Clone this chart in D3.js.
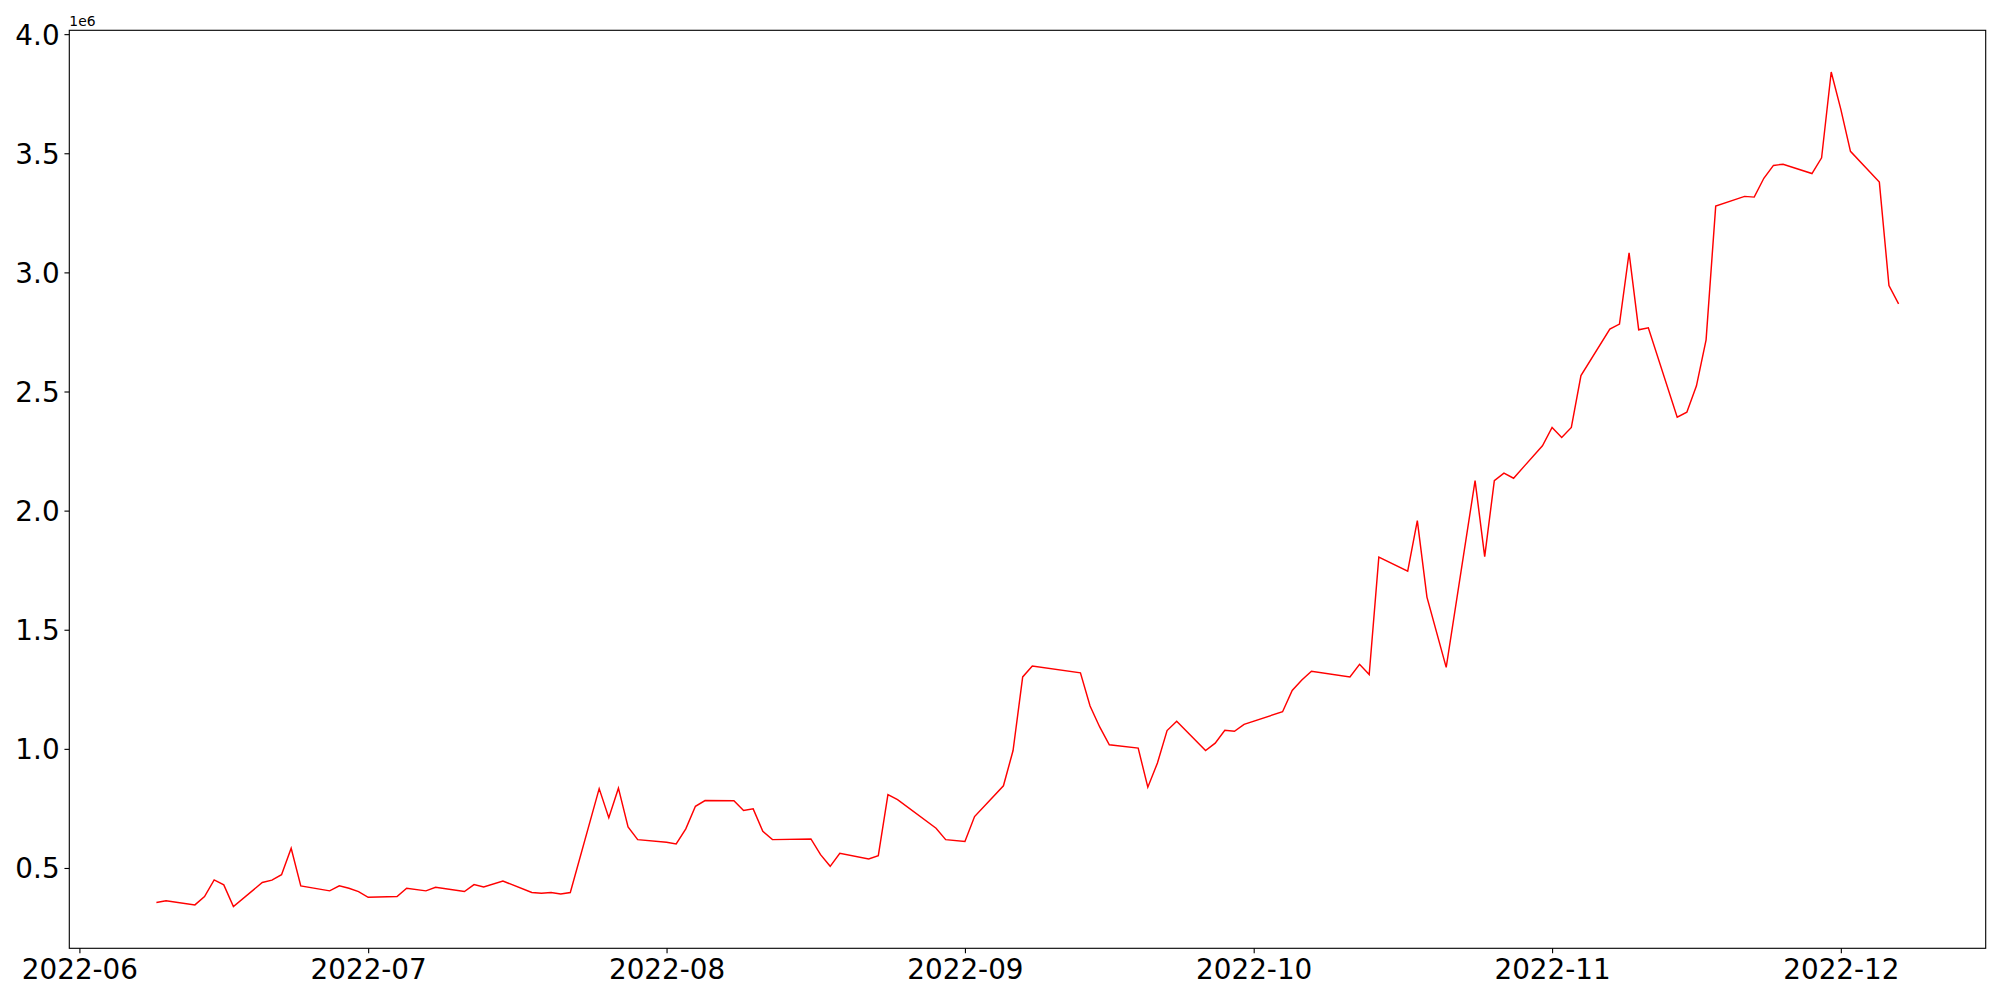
<!DOCTYPE html>
<html>
<head>
<meta charset="utf-8">
<script src="https://cdn.jsdelivr.net/npm/d3@7"></script>
<style>
  html, body { margin: 0; padding: 0; background: #fff; }
  svg { display: block; }
  text { font-family: "DejaVu Sans", sans-serif; fill: #000; }
</style>
</head>
<body>
<svg id="chart" width="2000" height="1000"></svg>
<script>
// ---- data ----
const dates = [
  "2022-06-09","2022-06-10","2022-06-13","2022-06-14","2022-06-15","2022-06-16","2022-06-17",
  "2022-06-20","2022-06-21","2022-06-22","2022-06-23","2022-06-24",
  "2022-06-27","2022-06-28","2022-06-29","2022-06-30","2022-07-01",
  "2022-07-04","2022-07-05","2022-07-07","2022-07-08",
  "2022-07-11","2022-07-12","2022-07-13","2022-07-15",
  "2022-07-18","2022-07-19","2022-07-20","2022-07-21","2022-07-22",
  "2022-07-25","2022-07-26","2022-07-27","2022-07-28","2022-07-29",
  "2022-08-01","2022-08-02","2022-08-03","2022-08-04","2022-08-05",
  "2022-08-08","2022-08-09","2022-08-10","2022-08-11","2022-08-12",
  "2022-08-16","2022-08-17","2022-08-18","2022-08-19",
  "2022-08-22","2022-08-23","2022-08-24","2022-08-25",
  "2022-08-29","2022-08-30","2022-09-01","2022-09-02",
  "2022-09-05","2022-09-06","2022-09-07","2022-09-08",
  "2022-09-13","2022-09-14","2022-09-15","2022-09-16",
  "2022-09-19","2022-09-20","2022-09-21","2022-09-22","2022-09-23",
  "2022-09-26","2022-09-27","2022-09-28","2022-09-29","2022-09-30",
  "2022-10-04","2022-10-05","2022-10-06","2022-10-07",
  "2022-10-11","2022-10-12","2022-10-13","2022-10-14",
  "2022-10-17","2022-10-18","2022-10-19","2022-10-21",
  "2022-10-24","2022-10-25","2022-10-26","2022-10-27","2022-10-28",
  "2022-10-31","2022-11-01","2022-11-02","2022-11-03","2022-11-04",
  "2022-11-07","2022-11-08","2022-11-09","2022-11-10","2022-11-11",
  "2022-11-14","2022-11-15","2022-11-16","2022-11-17","2022-11-18",
  "2022-11-21","2022-11-22","2022-11-23","2022-11-24","2022-11-25",
  "2022-11-28","2022-11-29","2022-11-30","2022-12-01","2022-12-02",
  "2022-12-05","2022-12-06","2022-12-07"
];
const values = [
  355000, 362000, 345000, 380000, 450000, 429000, 338000,
  439000, 449000, 472000, 583000, 425000,
  404000, 425000, 415000, 401000, 377000,
  380000, 415000, 404000, 419000,
  401000, 430000, 420000, 445000,
  397000, 394000, 397000, 391000, 397000,
  833000, 711000, 835000, 672000, 619000,
  608000, 601000, 664000, 759000, 783000,
  782000, 741000, 748000, 654000, 619000,
  622000, 556000, 507000, 562000,
  538000, 552000, 808000, 787000,
  667000, 619000, 611000, 716000,
  845000, 993000, 1302000, 1348000,
  1319000, 1180000, 1092000, 1017000,
  1003000, 839000, 941000, 1077000, 1116000,
  993000, 1024000, 1078000, 1074000, 1103000,
  1156000, 1245000, 1289000, 1326000,
  1302000, 1355000, 1312000, 1805000,
  1746000, 1958000, 1637000, 1342000,
  2126000, 1807000, 2126000, 2157000, 2136000,
  2272000, 2349000, 2307000, 2349000, 2567000,
  2762000, 2783000, 3082000, 2759000, 2767000,
  2392000, 2413000, 2524000, 2717000, 3278000,
  3319000, 3316000, 3395000, 3449000, 3454000,
  3415000, 3481000, 3841000, 3684000, 3508000,
  3379000, 2945000, 2868000
];
const xTickLabels = ["2022-06","2022-07","2022-08","2022-09","2022-10","2022-11","2022-12"];
const yTickValues = [500000, 1000000, 1500000, 2000000, 2500000, 3000000, 3500000, 4000000];
const yTickLabels = ["0.5","1.0","1.5","2.0","2.5","3.0","3.5","4.0"];
const offsetLabel = "1e6";

// ---- layout ----
const L = 69.3, R = 1985.7, T = 30.3, B = 948.3;
const tickLen = 4.86, pad = 4.86;
const svg = d3.select("#chart");

const parse = d3.utcParse("%Y-%m-%d");
const pts = dates.map((d, i) => ({ date: parse(d), value: values[i] }));

const xExt = d3.extent(pts, d => d.date);
const xSpan = xExt[1] - xExt[0];
const x = d3.scaleUtc()
  .domain([new Date(+xExt[0] - 0.05 * xSpan), new Date(+xExt[1] + 0.05 * xSpan)])
  .range([L, R]);

const yExt = d3.extent(pts, d => d.value);
const ySpan = yExt[1] - yExt[0];
const y = d3.scaleLinear()
  .domain([yExt[0] - 0.05 * ySpan, yExt[1] + 0.05 * ySpan])
  .range([B, T]);

// line
const line = d3.line().x(d => x(d.date)).y(d => y(d.value));
svg.append("path")
  .datum(pts)
  .attr("d", line)
  .attr("fill", "none")
  .attr("stroke", "#ff0000")
  .attr("stroke-width", 1.45)
  .attr("stroke-linejoin", "miter");

// frame
svg.append("rect")
  .attr("x", L).attr("y", T)
  .attr("width", R - L).attr("height", B - T)
  .attr("fill", "none").attr("stroke", "#000").attr("stroke-width", 1.11);

// x axis
const xTicks = xTickLabels.map(s => d3.utcParse("%Y-%m")(s));
const xAxis = d3.axisBottom(x)
  .tickValues(xTicks)
  .tickFormat((d, i) => xTickLabels[i])
  .tickSize(tickLen)
  .tickPadding(pad);
const gx = svg.append("g").attr("transform", `translate(0,${B})`).call(xAxis);
gx.select(".domain").remove();
gx.selectAll(".tick line").attr("stroke", "#000").attr("stroke-width", 1.11);
gx.selectAll(".tick text")
  .attr("font-size", "27.8px")
  .attr("font-family", "DejaVu Sans, sans-serif")
  .attr("fill", "#000")
  .attr("dy", null)
  .attr("y", 31);

// y axis
const yAxis = d3.axisLeft(y)
  .tickValues(yTickValues)
  .tickFormat((d, i) => yTickLabels[i])
  .tickSize(tickLen)
  .tickPadding(pad);
const gy = svg.append("g").attr("transform", `translate(${L},0)`).call(yAxis);
gy.select(".domain").remove();
gy.selectAll(".tick line").attr("stroke", "#000").attr("stroke-width", 1.11);
gy.selectAll(".tick text")
  .attr("font-size", "27.8px")
  .attr("font-family", "DejaVu Sans, sans-serif")
  .attr("fill", "#000")
  .attr("dy", "0.36em");

// offset text
svg.append("text")
  .attr("x", L)
  .attr("y", T - 4.5)
  .attr("font-size", "13.9px")
  .text(offsetLabel);
</script>
</body>
</html>
